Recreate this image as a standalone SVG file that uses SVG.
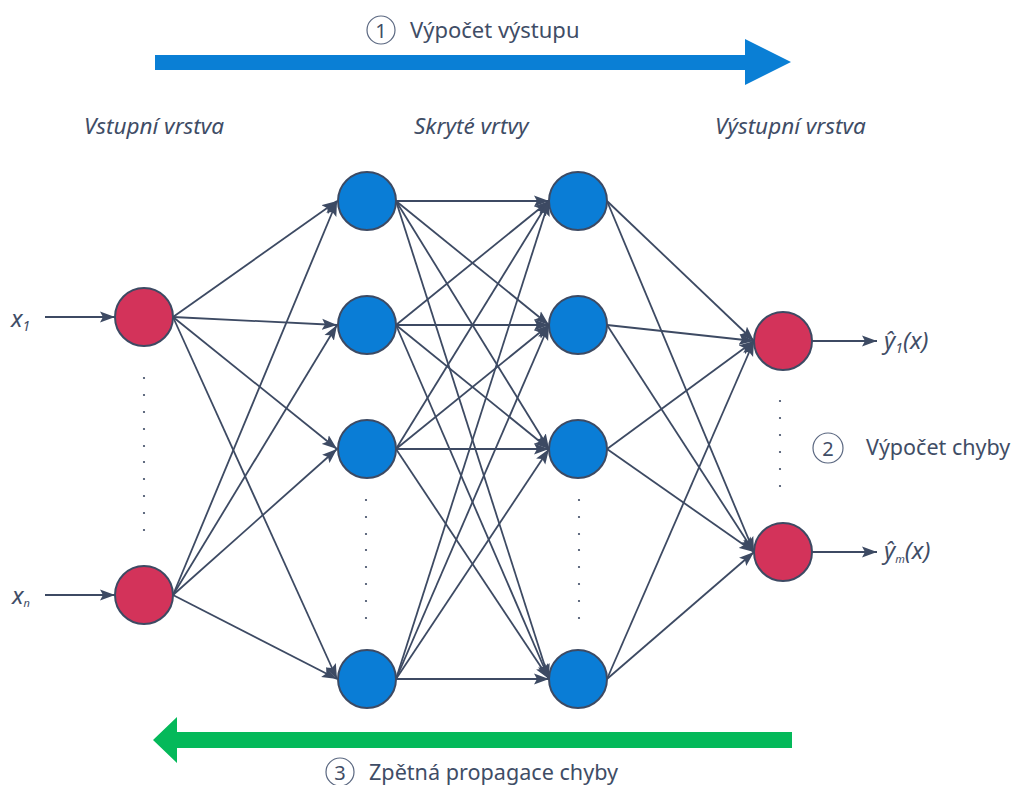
<svg xmlns="http://www.w3.org/2000/svg" width="1015" height="785" viewBox="0 0 1015 785">
<style>
text{font-family:"Noto Sans","Open Sans",sans-serif;fill:#3f4d66}
.it{font-style:italic}
.edge{stroke:#3d4a63;stroke-width:1.8;fill:none}
.inp{fill:#d3335a;stroke:#3d4a63;stroke-width:2}
.hid{fill:#0a7dd6;stroke:#3d4a63;stroke-width:2}
.dot{fill:#3d4a63}
.num{fill:none;stroke:#5a6780;stroke-width:1.2}
</style>
<defs>
<marker id="ah" markerUnits="userSpaceOnUse" markerWidth="16" markerHeight="12" refX="15" refY="6" orient="auto">
<path d="M0,0.5 L15,6 L0,11.5 L3,6 Z" fill="#3d4a63"/>
</marker>
</defs>
<rect width="1015" height="785" fill="#ffffff"/>

<g id="forward-arrow">
<polygon points="155,55 745,55 745,39 791,62 745,85 745,70 155,70" fill="#0a7fd5"/>
<circle class="num" cx="381" cy="30" r="14"/>
<text x="381" y="37.5" font-size="20" text-anchor="middle">1</text>
<text x="410" y="38" font-size="22">Výpočet výstupu</text>
</g>

<g id="layer-labels">
<text class="it" x="84" y="134" font-size="22.5">Vstupní vrstva</text>
<text class="it" x="414" y="134" font-size="22.5">Skryté vrtvy</text>
<text class="it" x="715" y="134" font-size="22.5">Výstupní vrstva</text>
</g>

<g id="connectors">
<line class="edge" x1="45" y1="317" x2="115" y2="317" marker-end="url(#ah)"/>
<line class="edge" x1="45" y1="595" x2="115" y2="595" marker-end="url(#ah)"/>
<line class="edge" x1="173" y1="317" x2="337" y2="201" marker-end="url(#ah)"/>
<line class="edge" x1="173" y1="317" x2="337" y2="325" marker-end="url(#ah)"/>
<line class="edge" x1="173" y1="317" x2="337" y2="449" marker-end="url(#ah)"/>
<line class="edge" x1="173" y1="317" x2="337" y2="679" marker-end="url(#ah)"/>
<line class="edge" x1="173" y1="595" x2="337" y2="201" marker-end="url(#ah)"/>
<line class="edge" x1="173" y1="595" x2="337" y2="325" marker-end="url(#ah)"/>
<line class="edge" x1="173" y1="595" x2="337" y2="449" marker-end="url(#ah)"/>
<line class="edge" x1="173" y1="595" x2="337" y2="679" marker-end="url(#ah)"/>
<line class="edge" x1="396" y1="201" x2="549" y2="201" marker-end="url(#ah)"/>
<line class="edge" x1="396" y1="201" x2="549" y2="325" marker-end="url(#ah)"/>
<line class="edge" x1="396" y1="201" x2="549" y2="449" marker-end="url(#ah)"/>
<line class="edge" x1="396" y1="201" x2="549" y2="679" marker-end="url(#ah)"/>
<line class="edge" x1="396" y1="325" x2="549" y2="201" marker-end="url(#ah)"/>
<line class="edge" x1="396" y1="325" x2="549" y2="325" marker-end="url(#ah)"/>
<line class="edge" x1="396" y1="325" x2="549" y2="449" marker-end="url(#ah)"/>
<line class="edge" x1="396" y1="325" x2="549" y2="679" marker-end="url(#ah)"/>
<line class="edge" x1="396" y1="449" x2="549" y2="201" marker-end="url(#ah)"/>
<line class="edge" x1="396" y1="449" x2="549" y2="325" marker-end="url(#ah)"/>
<line class="edge" x1="396" y1="449" x2="549" y2="449" marker-end="url(#ah)"/>
<line class="edge" x1="396" y1="449" x2="549" y2="679" marker-end="url(#ah)"/>
<line class="edge" x1="396" y1="679" x2="549" y2="201" marker-end="url(#ah)"/>
<line class="edge" x1="396" y1="679" x2="549" y2="325" marker-end="url(#ah)"/>
<line class="edge" x1="396" y1="679" x2="549" y2="449" marker-end="url(#ah)"/>
<line class="edge" x1="396" y1="679" x2="549" y2="679" marker-end="url(#ah)"/>
<line class="edge" x1="607" y1="201" x2="754" y2="341" marker-end="url(#ah)"/>
<line class="edge" x1="607" y1="201" x2="754" y2="552" marker-end="url(#ah)"/>
<line class="edge" x1="607" y1="325" x2="754" y2="341" marker-end="url(#ah)"/>
<line class="edge" x1="607" y1="325" x2="754" y2="552" marker-end="url(#ah)"/>
<line class="edge" x1="607" y1="449" x2="754" y2="341" marker-end="url(#ah)"/>
<line class="edge" x1="607" y1="449" x2="754" y2="552" marker-end="url(#ah)"/>
<line class="edge" x1="607" y1="679" x2="754" y2="341" marker-end="url(#ah)"/>
<line class="edge" x1="607" y1="679" x2="754" y2="552" marker-end="url(#ah)"/>
<line class="edge" x1="812" y1="341" x2="877" y2="341" marker-end="url(#ah)"/>
<line class="edge" x1="812" y1="552" x2="877" y2="552" marker-end="url(#ah)"/>
</g>

<g id="input-1"><circle class="inp" cx="144" cy="317" r="29"/></g>
<g id="input-n"><circle class="inp" cx="144" cy="595" r="29"/></g>
<g id="hidden1-1"><circle class="hid" cx="367" cy="201" r="29"/></g>
<g id="hidden1-2"><circle class="hid" cx="367" cy="325" r="29"/></g>
<g id="hidden1-3"><circle class="hid" cx="367" cy="449" r="29"/></g>
<g id="hidden1-4"><circle class="hid" cx="367" cy="679" r="29"/></g>
<g id="hidden2-1"><circle class="hid" cx="578" cy="201" r="29"/></g>
<g id="hidden2-2"><circle class="hid" cx="578" cy="325" r="29"/></g>
<g id="hidden2-3"><circle class="hid" cx="578" cy="449" r="29"/></g>
<g id="hidden2-4"><circle class="hid" cx="578" cy="679" r="29"/></g>
<g id="output-1"><circle class="inp" cx="783" cy="341" r="29"/></g>
<g id="output-m"><circle class="inp" cx="783" cy="552" r="29"/></g>

<g id="dots">
<g class="dot">
<circle cx="144" cy="378" r="1.1"/><circle cx="144" cy="395" r="1.1"/><circle cx="144" cy="412" r="1.1"/><circle cx="144" cy="429" r="1.1"/><circle cx="144" cy="446" r="1.1"/><circle cx="144" cy="462" r="1.1"/><circle cx="144" cy="479" r="1.1"/><circle cx="144" cy="496" r="1.1"/><circle cx="144" cy="513" r="1.1"/><circle cx="144" cy="530" r="1.1"/>
<circle cx="366" cy="500" r="1.1"/><circle cx="366" cy="517" r="1.1"/><circle cx="366" cy="534" r="1.1"/><circle cx="366" cy="550" r="1.1"/><circle cx="366" cy="567" r="1.1"/><circle cx="366" cy="584" r="1.1"/><circle cx="366" cy="601" r="1.1"/><circle cx="366" cy="618" r="1.1"/>
<circle cx="579" cy="500" r="1.1"/><circle cx="579" cy="517" r="1.1"/><circle cx="579" cy="534" r="1.1"/><circle cx="579" cy="550" r="1.1"/><circle cx="579" cy="567" r="1.1"/><circle cx="579" cy="584" r="1.1"/><circle cx="579" cy="601" r="1.1"/><circle cx="579" cy="618" r="1.1"/>
<circle cx="780" cy="401" r="1.1"/><circle cx="780" cy="418" r="1.1"/><circle cx="780" cy="435" r="1.1"/><circle cx="780" cy="452" r="1.1"/><circle cx="780" cy="469" r="1.1"/><circle cx="780" cy="486" r="1.1"/>
</g>
</g>

<g id="io-labels">
<text class="it" x="11" y="327" font-size="24">x<tspan font-size="14" dy="4">1</tspan></text>
<text class="it" x="12" y="604" font-size="24">x<tspan font-size="11" dy="3">n</tspan></text>
<text class="it" x="884" y="349" font-size="24">ŷ<tspan font-size="14" dy="4">1</tspan><tspan dy="-4">(x)</tspan></text>
<text class="it" x="884" y="559" font-size="24">ŷ<tspan font-size="11" dy="4">m</tspan><tspan dy="-4">(x)</tspan></text>
</g>

<g id="error-label">
<circle class="num" cx="828" cy="448" r="15"/>
<text x="828" y="455.5" font-size="20" text-anchor="middle">2</text>
<text x="866" y="455" font-size="21.5">Výpočet chyby</text>
</g>

<g id="backprop-arrow">
<polygon points="792,732 177,732 177,717 153,740 177,763 177,748 792,748" fill="#04b95a"/>
<circle class="num" cx="340" cy="772" r="14"/>
<text x="340" y="779.5" font-size="20" text-anchor="middle">3</text>
<text x="369" y="780" font-size="21.6">Zpětná propagace chyby</text>
</g>
</svg>
